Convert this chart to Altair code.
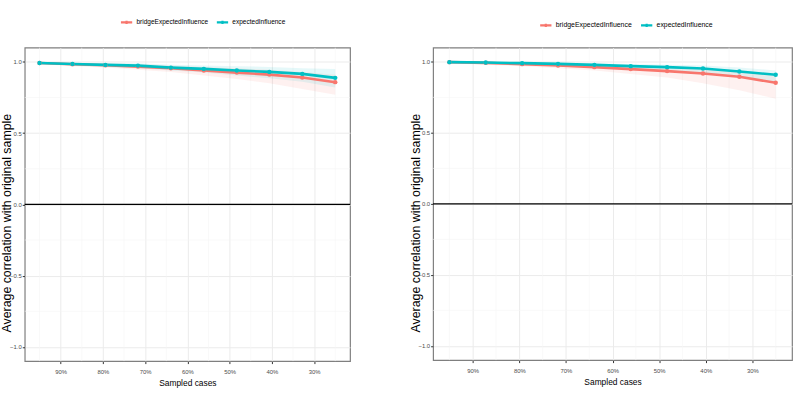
import altair as alt
import pandas as pd

# Proportion of cases retained at each case-dropping step (%)
sampled = [95.0, 87.2, 79.4, 71.7, 63.9, 56.1, 48.3, 40.6, 32.8, 25.0]
series = ["bridgeExpectedInfluence", "expectedInfluence"]

# Left network: mean correlation with the original sample, with quantile bands
left_bridge = [0.993, 0.984, 0.977, 0.967, 0.956, 0.940, 0.925, 0.911, 0.890, 0.858]
left_bridge_lo = [0.985, 0.970, 0.960, 0.945, 0.930, 0.905, 0.880, 0.850, 0.810, 0.770]
left_bridge_hi = [1.000, 0.995, 0.990, 0.985, 0.975, 0.965, 0.955, 0.945, 0.930, 0.910]
left_ei = [0.993, 0.986, 0.979, 0.974, 0.960, 0.951, 0.940, 0.930, 0.916, 0.888]
left_ei_lo = [0.985, 0.975, 0.965, 0.955, 0.940, 0.925, 0.905, 0.885, 0.860, 0.820]
left_ei_hi = [1.000, 0.995, 0.990, 0.990, 0.980, 0.975, 0.970, 0.965, 0.955, 0.950]

# Right network
right_bridge = [0.998, 0.993, 0.984, 0.975, 0.963, 0.949, 0.935, 0.918, 0.895, 0.853]
right_bridge_lo = [0.990, 0.980, 0.970, 0.955, 0.940, 0.915, 0.890, 0.850, 0.800, 0.740]
right_bridge_hi = [1.000, 1.000, 0.995, 0.990, 0.985, 0.975, 0.965, 0.955, 0.940, 0.910]
right_ei = [0.998, 0.995, 0.991, 0.986, 0.979, 0.970, 0.963, 0.953, 0.932, 0.909]
right_ei_lo = [0.990, 0.985, 0.980, 0.970, 0.960, 0.950, 0.935, 0.920, 0.890, 0.860]
right_ei_hi = [1.000, 1.000, 0.998, 0.995, 0.990, 0.985, 0.980, 0.975, 0.960, 0.940]

x_major = [90, 80, 70, 60, 50, 40, 30]
x_minor = [95, 85, 75, 65, 55, 45, 35, 25]
y_major = [-1.0, -0.5, 0.0, 0.5, 1.0]
y_minor = [-0.75, -0.25, 0.25, 0.75]

palette = ["#F8766D", "#00BFC4"]
FONT = "Liberation Sans, Arial, sans-serif"
KEY = "M-1,0H1M0,-0.3V0.3M-0.3,0H0.3"


def frame(b, blo, bhi, e, elo, ehi):
    rows = []
    for name, m, lo, hi in ((series[0], b, blo, bhi), (series[1], e, elo, ehi)):
        for p, v, l, h in zip(sampled, m, lo, hi):
            # "grp" duplicates the series name for the fill scale of bands and points
            rows.append({"pct": p, "series": name, "grp": name, "mean": v, "lo": l, "hi": h})
    return pd.DataFrame(rows)


def panel(df, width, height, legend_x, legend_y, legend_font, title_y):
    xscale = alt.Scale(domain=[21.5, 98.5], reverse=True, nice=False, zero=False)
    yscale = alt.Scale(domain=[-1.1, 1.1], nice=False, zero=False)
    x_axis = alt.Axis(
        values=x_major, labelExpr="datum.value + '%'", title="Sampled cases",
        grid=True, gridColor="#ebebeb", gridWidth=1, domain=False,
        tickColor="#333333", tickSize=2.5, labelFont=FONT, labelFontSize=6,
        labelColor="#4d4d4d", labelPadding=5, titleFont=FONT, titleFontSize=8.5,
        titleFontWeight="normal", titleColor="#000000", titlePadding=4,
    )
    y_axis = alt.Axis(
        values=y_major, format=".1f", title="Average correlation with original sample",
        grid=True, gridColor="#ebebeb", gridWidth=1, domain=False,
        tickColor="#333333", tickSize=2.5, labelFont=FONT, labelFontSize=6,
        labelColor="#4d4d4d", labelPadding=1, titleFont=FONT, titleFontSize=12.5,
        titleFontWeight="normal", titleColor="#000000", titleX=-11, titleY=title_y,
    )
    fill_scale = alt.Scale(range=palette)

    xminor = alt.Chart(pd.DataFrame({"v": x_minor})).mark_rule(
        color="#f4f4f4", strokeWidth=0.6
    ).encode(x=alt.X("v:Q", scale=xscale, axis=x_axis))
    yminor = alt.Chart(pd.DataFrame({"v": y_minor})).mark_rule(
        color="#f4f4f4", strokeWidth=0.6
    ).encode(y=alt.Y("v:Q", scale=yscale, axis=y_axis))

    base = alt.Chart(df).encode(x=alt.X("pct:Q", scale=xscale, axis=x_axis))
    band = base.mark_area(opacity=0.1).encode(
        y=alt.Y("lo:Q", scale=yscale, axis=y_axis),
        y2="hi:Q",
        fill=alt.Fill("grp:N", scale=fill_scale, legend=None),
    )
    zero = alt.Chart(pd.DataFrame({"v": [0.0]})).mark_rule(
        color="#000000", strokeWidth=1.2
    ).encode(y=alt.Y("v:Q", scale=yscale, axis=y_axis))
    line = base.mark_line(strokeWidth=2.6).encode(
        y=alt.Y("mean:Q", scale=yscale, axis=y_axis),
        color=alt.Color(
            "series:N",
            scale=alt.Scale(domain=series, range=palette),
            legend=alt.Legend(
                title=None, orient="none", direction="horizontal",
                legendX=legend_x, legendY=legend_y, symbolType=KEY,
                symbolSize=130, symbolStrokeWidth=2.2, labelFont=FONT,
                labelFontSize=legend_font, labelColor="#000000", labelOffset=3,
                columnPadding=3,
            ),
        ),
    )
    pts = base.mark_point(filled=True, size=20, opacity=1).encode(
        y=alt.Y("mean:Q", scale=yscale, axis=y_axis),
        fill=alt.Fill("grp:N", scale=fill_scale, legend=None),
    )
    return alt.layer(xminor, yminor, band, zero, line, pts).properties(
        width=width, height=height
    )


left = panel(
    frame(left_bridge, left_bridge_lo, left_bridge_hi, left_ei, left_ei_lo, left_ei_hi),
    329, 317, 96, -33, 6.6, 177,
)
right = panel(
    frame(right_bridge, right_bridge_lo, right_bridge_hi, right_ei, right_ei_lo, right_ei_hi),
    363, 316, 107, -30, 7.0, 177,
)

chart = (
    alt.hconcat(left, right, spacing=57)
    .resolve_scale(color="independent", fill="independent", x="independent", y="independent")
    .resolve_legend(color="independent")
    .configure(padding={"left": 0, "top": 12, "right": 0, "bottom": 0}, background="#ffffff")
    .configure_view(stroke="#7f7f7f", strokeWidth=1.2)
)

chart.save("out.html", embed_options={"renderer": "svg", "actions": False})
